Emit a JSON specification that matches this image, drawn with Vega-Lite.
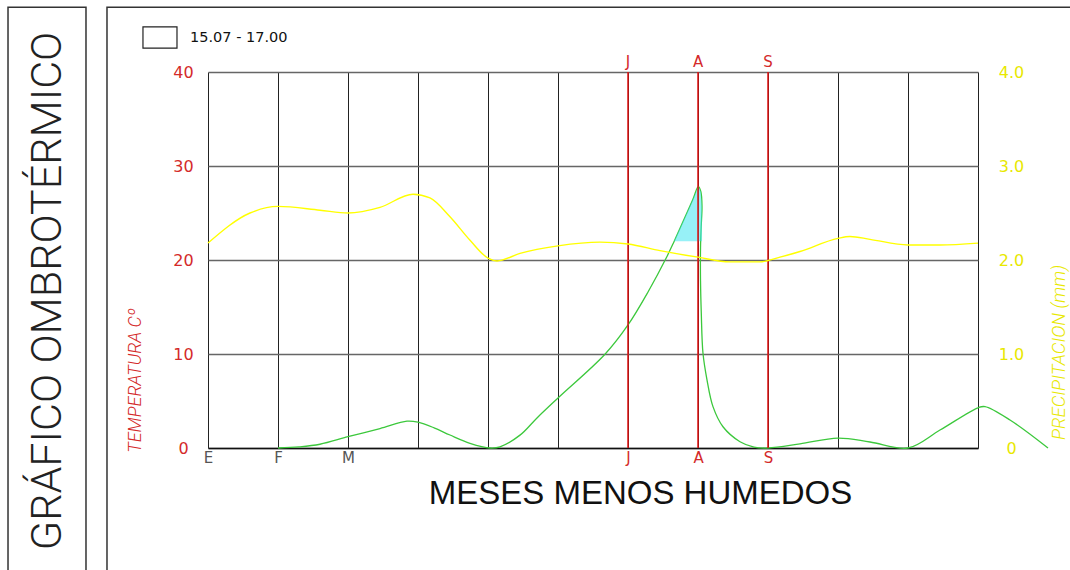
{
  "$schema": "https://vega.github.io/schema/vega-lite/v6.json",
  "width": 770,
  "height": 376,
  "autosize": {"type": "none"},
  "padding": {"left": 208, "top": 72, "right": 92, "bottom": 122},
  "background": "white",
  "config": {"view": {"stroke": null}, "font": "Liberation Sans"},
  "datasets": {
    "temp": [
      {"i": 1, "m": 1.0, "t": 0.0},
      {"i": 2, "m": 1.3, "t": 0.12},
      {"i": 3, "m": 1.6, "t": 0.4},
      {"i": 4, "m": 2.0, "t": 1.2},
      {"i": 5, "m": 2.457, "t": 2.07},
      {"i": 6, "m": 2.843, "t": 2.86},
      {"i": 7, "m": 3.0, "t": 2.75},
      {"i": 8, "m": 3.229, "t": 2.15},
      {"i": 9, "m": 3.457, "t": 1.38},
      {"i": 10, "m": 3.743, "t": 0.5},
      {"i": 11, "m": 4.029, "t": 0.0},
      {"i": 12, "m": 4.171, "t": 0.12},
      {"i": 13, "m": 4.457, "t": 1.37},
      {"i": 14, "m": 4.7, "t": 3.2},
      {"i": 15, "m": 5.0, "t": 5.32},
      {"i": 16, "m": 5.671, "t": 9.97},
      {"i": 17, "m": 6.0, "t": 13.09},
      {"i": 18, "m": 6.286, "t": 16.6},
      {"i": 19, "m": 6.553, "t": 20.32},
      {"i": 20, "m": 6.657, "t": 21.95},
      {"i": 21, "m": 6.839, "t": 24.97},
      {"i": 22, "m": 6.933, "t": 26.56},
      {"i": 23, "m": 7.004, "t": 27.8},
      {"i": 24, "m": 7.04, "t": 27.3},
      {"i": 25, "m": 7.057, "t": 25.7},
      {"i": 26, "m": 7.045, "t": 23.5},
      {"i": 27, "m": 7.036, "t": 21.3},
      {"i": 28, "m": 7.036, "t": 17.8},
      {"i": 29, "m": 7.047, "t": 14.36},
      {"i": 30, "m": 7.071, "t": 10.1},
      {"i": 31, "m": 7.129, "t": 7.23},
      {"i": 32, "m": 7.214, "t": 4.4},
      {"i": 33, "m": 7.357, "t": 2.26},
      {"i": 34, "m": 7.6, "t": 0.67},
      {"i": 35, "m": 7.8, "t": 0.1},
      {"i": 36, "m": 8.0, "t": 0.0},
      {"i": 37, "m": 8.457, "t": 0.43},
      {"i": 38, "m": 9.0, "t": 1.06},
      {"i": 39, "m": 9.457, "t": 0.64},
      {"i": 40, "m": 10.0, "t": 0.0},
      {"i": 41, "m": 10.457, "t": 1.91},
      {"i": 42, "m": 11.0, "t": 4.28},
      {"i": 43, "m": 11.1, "t": 4.4},
      {"i": 44, "m": 11.457, "t": 2.98},
      {"i": 45, "m": 12.0, "t": 0.0}
    ],
    "prec": [
      {"m": 0.0, "p": 2.18},
      {"m": 0.6, "p": 2.5},
      {"m": 1.0, "p": 2.57},
      {"m": 1.6, "p": 2.53},
      {"m": 2.0, "p": 2.5},
      {"m": 2.457, "p": 2.56},
      {"m": 2.929, "p": 2.7},
      {"m": 3.171, "p": 2.66},
      {"m": 3.457, "p": 2.46},
      {"m": 3.743, "p": 2.21},
      {"m": 4.0, "p": 2.02},
      {"m": 4.129, "p": 1.99},
      {"m": 4.457, "p": 2.07},
      {"m": 5.0, "p": 2.15},
      {"m": 5.6, "p": 2.19},
      {"m": 6.0, "p": 2.17},
      {"m": 6.457, "p": 2.1},
      {"m": 7.0, "p": 2.03},
      {"m": 7.457, "p": 1.98},
      {"m": 7.886, "p": 1.98},
      {"m": 8.171, "p": 2.03},
      {"m": 8.457, "p": 2.09},
      {"m": 9.0, "p": 2.23},
      {"m": 9.171, "p": 2.25},
      {"m": 9.457, "p": 2.22},
      {"m": 10.0, "p": 2.16},
      {"m": 10.457, "p": 2.16},
      {"m": 11.0, "p": 2.18}
    ],
    "dry": [
      {"m": 6.657, "t": 22.0},
      {"m": 6.75, "t": 23.5},
      {"m": 6.839, "t": 24.97},
      {"m": 6.933, "t": 26.56},
      {"m": 7.004, "t": 27.8},
      {"m": 7.04, "t": 27.3},
      {"m": 7.055, "t": 25.7},
      {"m": 7.058, "t": 22.0}
    ],
    "jas": [
      {"m": 6, "lab": "J"},
      {"m": 7, "lab": "A"},
      {"m": 8, "lab": "S"}
    ],
    "heading": [{"label": "GRÁFICO OMBROTÉRMICO"}],
    "key": [{"label": "15.07 - 17.00"}]
  },
  "layer": [
    {
      "data": {"name": "temp"},
      "mark": {"type": "line", "color": "#3cc83c", "strokeWidth": 1.3, "interpolate": "catmull-rom"},
      "encoding": {
        "order": {"field": "i", "type": "quantitative"},
        "x": {
          "field": "m",
          "type": "quantitative",
          "scale": {"domain": [0, 11], "nice": false, "zero": false},
          "axis": {
            "values": [0, 1, 2, 3, 4, 5, 6, 7, 8, 9, 10, 11],
            "grid": true,
            "gridColor": "#222222",
            "gridWidth": 1,
            "ticks": false,
            "tickSize": 0,
            "domain": true,
            "domainColor": "#111111",
            "domainWidth": 1.5,
            "labelExpr": "['E','F','M','','','','J','A','S','','',''][datum.value]",
            "labelColor": {"condition": {"test": "datum.value >= 6", "value": "#d42a2a"}, "value": "#555555"},
            "labelFont": "DejaVu Sans",
            "labelFontSize": 15,
            "labelPadding": 2,
            "labelBaseline": "top",
            "labelAlign": "center",
            "labelFlush": false,
            "labelOverlap": false,
            "title": "MESES MENOS HUMEDOS",
            "titleFont": "Liberation Sans",
            "titleFontSize": 33,
            "titleFontWeight": "normal",
            "titleColor": "#111111",
            "titleX": 432,
            "titleY": 55,
            "titleAlign": "center",
            "titleBaseline": "alphabetic"
          }
        },
        "y": {
          "field": "t",
          "type": "quantitative",
          "scale": {"domain": [0, 40], "nice": false, "zero": false},
          "axis": {
            "values": [0, 10, 20, 30, 40],
            "grid": true,
            "gridColor": "#666666",
            "gridWidth": 1.5,
            "domain": false,
            "ticks": false,
            "tickSize": 0,
            "labelColor": "#d42a2a",
            "labelFont": "DejaVu Sans",
            "labelFontSize": 16,
            "labelAlign": "center",
            "labelBaseline": "middle",
            "labelPadding": 25,
            "title": "TEMPERATURA Cº",
            "titleAngle": 270,
            "titleX": -73,
            "titleY": 308,
            "titleAlign": "center",
            "titleBaseline": "middle",
            "titleFont": "Roboto",
            "titleFontStyle": "italic",
            "titleFontWeight": 300,
            "titleFontSize": 18,
            "titleColor": "#d42a2a"
          }
        }
      }
    },
    {
      "data": {"name": "heading"},
      "mark": {"type": "rect", "fill": "transparent", "stroke": "#333333", "strokeWidth": 1.5},
      "encoding": {
        "x": {"datum": -2.857, "type": "quantitative"},
        "x2": {"datum": -1.743},
        "y": {"datum": 46.9, "type": "quantitative", "scale": {"domain": [0, 40], "nice": false, "zero": false}, "axis": null},
        "y2": {"datum": -13.5}
      }
    },
    {
      "data": {"name": "heading"},
      "mark": {"type": "rect", "fill": "transparent", "stroke": "#333333", "strokeWidth": 1.5},
      "encoding": {
        "x": {"datum": -1.443, "type": "quantitative"},
        "x2": {"datum": 12.4},
        "y": {"datum": 46.9, "type": "quantitative", "scale": {"domain": [0, 40], "nice": false, "zero": false}, "axis": null},
        "y2": {"datum": -13.5}
      }
    },
    {
      "data": {"name": "heading"},
      "mark": {"type": "text", "angle": 270, "align": "center", "baseline": "middle", "font": "Roboto", "fontWeight": 300, "fontSize": 43, "color": "#222222"},
      "encoding": {
        "text": {"field": "label"},
        "x": {"datum": -2.286, "type": "quantitative"},
        "y": {"datum": 16.7, "type": "quantitative", "scale": {"domain": [0, 40], "nice": false, "zero": false}, "axis": null}
      }
    },
    {
      "data": {"name": "key"},
      "mark": {"type": "rect", "fill": "white", "stroke": "#222222", "strokeWidth": 1.2},
      "encoding": {
        "x": {"datum": -0.929, "type": "quantitative"},
        "x2": {"datum": -0.443},
        "y": {"datum": 44.79, "type": "quantitative", "scale": {"domain": [0, 40], "nice": false, "zero": false}, "axis": null},
        "y2": {"datum": 42.55}
      }
    },
    {
      "data": {"name": "key"},
      "mark": {"type": "text", "align": "left", "baseline": "middle", "font": "DejaVu Sans", "fontSize": 14.5, "color": "#111111"},
      "encoding": {
        "text": {"field": "label"},
        "x": {"datum": -0.257, "type": "quantitative"},
        "y": {"datum": 43.67, "type": "quantitative", "scale": {"domain": [0, 40], "nice": false, "zero": false}, "axis": null}
      }
    },
    {
      "data": {"name": "dry"},
      "mark": {"type": "area", "color": "#30e4f0", "opacity": 0.5, "interpolate": "linear"},
      "encoding": {
        "x": {"field": "m", "type": "quantitative"},
        "y": {"field": "t", "type": "quantitative", "scale": {"domain": [0, 40], "nice": false, "zero": false}, "axis": null},
        "y2": {"datum": 22.0}
      }
    },
    {
      "data": {"name": "jas"},
      "mark": {"type": "rule", "color": "#e01010", "strokeWidth": 1.5},
      "encoding": {
        "x": {"field": "m", "type": "quantitative"},
        "y": {"datum": 0, "type": "quantitative", "scale": {"domain": [0, 40], "nice": false, "zero": false}, "axis": null},
        "y2": {"datum": 40}
      }
    },
    {
      "data": {"name": "jas"},
      "mark": {"type": "text", "font": "DejaVu Sans", "fontSize": 15, "color": "#d42a2a", "baseline": "alphabetic", "dy": -5},
      "encoding": {
        "text": {"field": "lab"},
        "x": {"field": "m", "type": "quantitative"},
        "y": {"datum": 40, "type": "quantitative", "scale": {"domain": [0, 40], "nice": false, "zero": false}, "axis": null}
      }
    },
    {
      "data": {"name": "prec"},
      "mark": {"type": "line", "color": "#ffff00", "strokeWidth": 1.4, "interpolate": "monotone"},
      "encoding": {
        "x": {"field": "m", "type": "quantitative"},
        "y": {
          "field": "p",
          "type": "quantitative",
          "scale": {"domain": [0, 4], "nice": false, "zero": false},
          "axis": {
            "orient": "right",
            "values": [0, 1, 2, 3, 4],
            "grid": false,
            "domain": false,
            "ticks": false,
            "tickSize": 0,
            "labelExpr": "datum.value == 0 ? '0' : format(datum.value, '.1f')",
            "labelColor": "#e8e800",
            "labelFont": "DejaVu Sans",
            "labelFontSize": 16,
            "labelAlign": "center",
            "labelBaseline": "middle",
            "labelPadding": 33,
            "title": "PRECIPITACION (mm)",
            "titleAngle": 270,
            "titleX": 80,
            "titleY": 280,
            "titleAlign": "center",
            "titleBaseline": "middle",
            "titleFont": "Roboto",
            "titleFontStyle": "italic",
            "titleFontWeight": 300,
            "titleFontSize": 18.5,
            "titleColor": "#e8e800"
          }
        }
      }
    }
  ],
  "resolve": {"scale": {"y": "independent"}}
}
